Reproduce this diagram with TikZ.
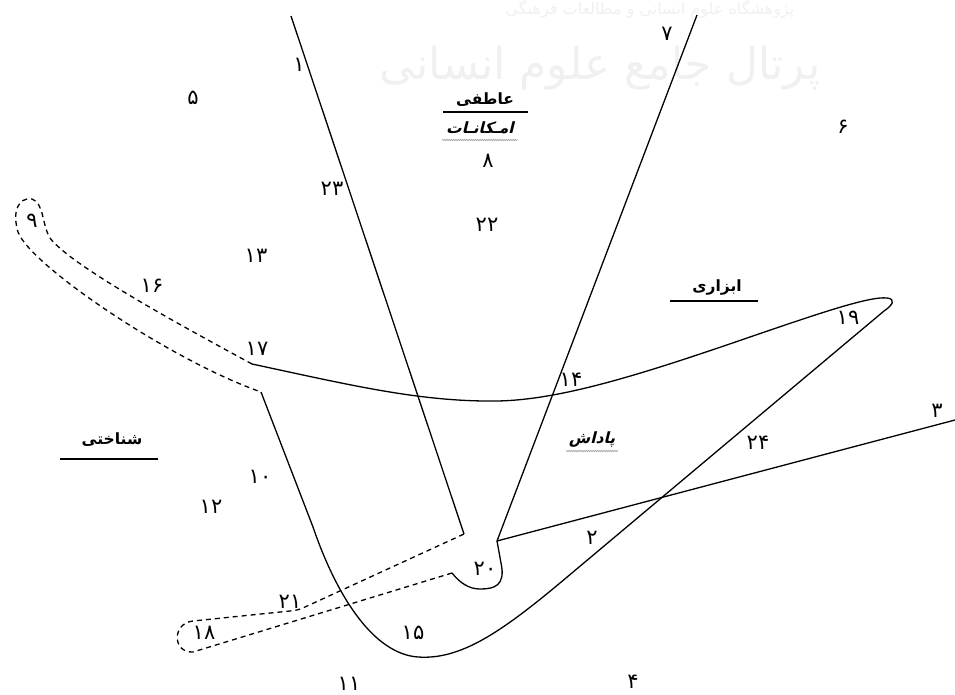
\documentclass[tikz,border=0pt]{standalone}
\usepackage{fontspec}
\usetikzlibrary{decorations.pathmorphing}
\TeXXeTstate=1
\newfontfamily\fa[Script=Arabic]{DejaVu Sans}
\newfontfamily\fab[Script=Arabic]{DejaVu Sans Bold}
\newfontfamily\fabi[Script=Arabic,FakeSlant=0.25]{DejaVu Sans Bold}
\tikzset{
  num/.style={font=\fa\fontsize{21}{21}\selectfont, inner sep=0pt},
  word/.style={font=\fab\fontsize{15.5}{15.5}\selectfont, inner sep=0pt},
  iword/.style={font=\fabi\fontsize{15.5}{15.5}\selectfont, inner sep=0pt},
  wm/.style={font=\fa\fontsize{44}{44}\selectfont, text=gray!12, inner sep=0pt},
  curve/.style={line width=1.3pt, line join=round},
  dashline/.style={line width=1.3pt, dash pattern=on 5pt off 4pt},
  rule/.style={line width=1.5pt},
  squig/.style={gray!70, line width=0.7pt, decorate, decoration={snake, amplitude=0.7pt, segment length=2.2pt}}
}
\begin{document}
\begin{tikzpicture}[x=1pt,y=-1pt]
\useasboundingbox (0,0) rectangle (955,695);
% watermark
\node[wm] (wma) at (600,68) {\beginR پرتال جامع علوم انسانی\endR};
\node[wm, font=\fa\fontsize{16}{16}\selectfont] (wmb) at (650,9) {\beginR پژوهشگاه علوم انسانی و مطالعات فرهنگی\endR};
% key points
\coordinate (vL) at (291,16);
\coordinate (vLb) at (464,534);
\coordinate (vR) at (697,15);
\coordinate (vRb) at (497,541);
\coordinate (e3) at (955,420);
\coordinate (p17) at (252,364);
\coordinate (p10) at (261,392);
\coordinate (tip) at (887,298);
\coordinate (f20) at (452,573);
\coordinate (q18t) at (193,621);
\coordinate (q18b) at (193,652);
% V lines
\draw[curve] (vL) -- (vLb);
\draw[curve] (vR) -- (vRb) -- (e3);
% foot 20
\draw[curve] (vRb) -- (501,563) .. controls (506,586) and (494,589) .. (480,589) .. controls (469,589) and (460,583) .. (f20);
% dashed loop 18
\draw[dashline] (f20) -- (q18b) .. controls (172,653) and (172,623) .. (q18t) -- (290,611) .. controls (298,610) .. (305,607) -- (vLb);
% big solid curve
\draw[curve] (p17) .. controls (350,385) and (420,402) .. (497,401) .. controls (560,400) and (640,375) .. (750,337) .. controls (820,313) and (870,296) .. (tip) .. controls (896,299) and (893,305) .. (884,311) -- (560,583) .. controls (500,633) and (460,660) .. (418,657) .. controls (375,654) and (338,600) .. (313,527) -- (p10);
% dashed loop 9
\draw[dashline] (p17) .. controls (180,325) and (70,265) .. (50,238) .. controls (42,225) and (44,203) .. (32,199) .. controls (18,197) and (12,212) .. (18,232) .. controls (30,265) and (170,360) .. (p10);
% words
\node[word] (wAtefi) at (485,100) {\beginR عاطفی\endR};
\draw[rule] (443,112) -- (528,112);
\node[iword] (wEmkan) at (480,128) {\beginR امـکانـات\endR};
\draw[squig] (442,140) -- (518,140);
\node[word] (wAbzari) at (717,288) {\beginR ابزاری\endR};
\draw[rule] (670,301) -- (758,301);
\node[word] (wShenakhti) at (112,440) {\beginR شناختی\endR};
\draw[rule] (60,459) -- (158,459);
\node[iword] (wPadash) at (592,439) {\beginR پاداش\endR};
\draw[squig] (566,451) -- (618,451);
% numbers
\node[num] (n1) at (299,65) {۱};
\node[num] (n7) at (667,34) {۷};
\node[num] (n5) at (193,98) {۵};
\node[num] (n6) at (843,127) {۶};
\node[num] (n8) at (488,161) {۸};
\node[num] (n23) at (332,189) {۲۳};
\node[num] (n22) at (487,225) {۲۲};
\node[num] (n9) at (32,221) {۹};
\node[num] (n13) at (256,256) {۱۳};
\node[num] (n16) at (152,286) {۱۶};
\node[num] (n17) at (257,349) {۱۷};
\node[num] (n19) at (848,318) {۱۹};
\node[num] (n14) at (571,380) {۱۴};
\node[num] (n3) at (937,411) {۳};
\node[num] (n24) at (758,443) {۲۴};
\node[num] (n10) at (260,477) {۱۰};
\node[num] (n12) at (211,507) {۱۲};
\node[num] (n2) at (592,538) {۲};
\node[num] (n20) at (485,569) {۲۰};
\node[num] (n21) at (290,602) {۲۱};
\node[num] (n18) at (204,633) {۱۸};
\node[num] (n15) at (413,633) {۱۵};
\node[num] (n4) at (633,682) {۴};
\node[num] (n11) at (349,684) {۱۱};
\end{tikzpicture}
\end{document}
